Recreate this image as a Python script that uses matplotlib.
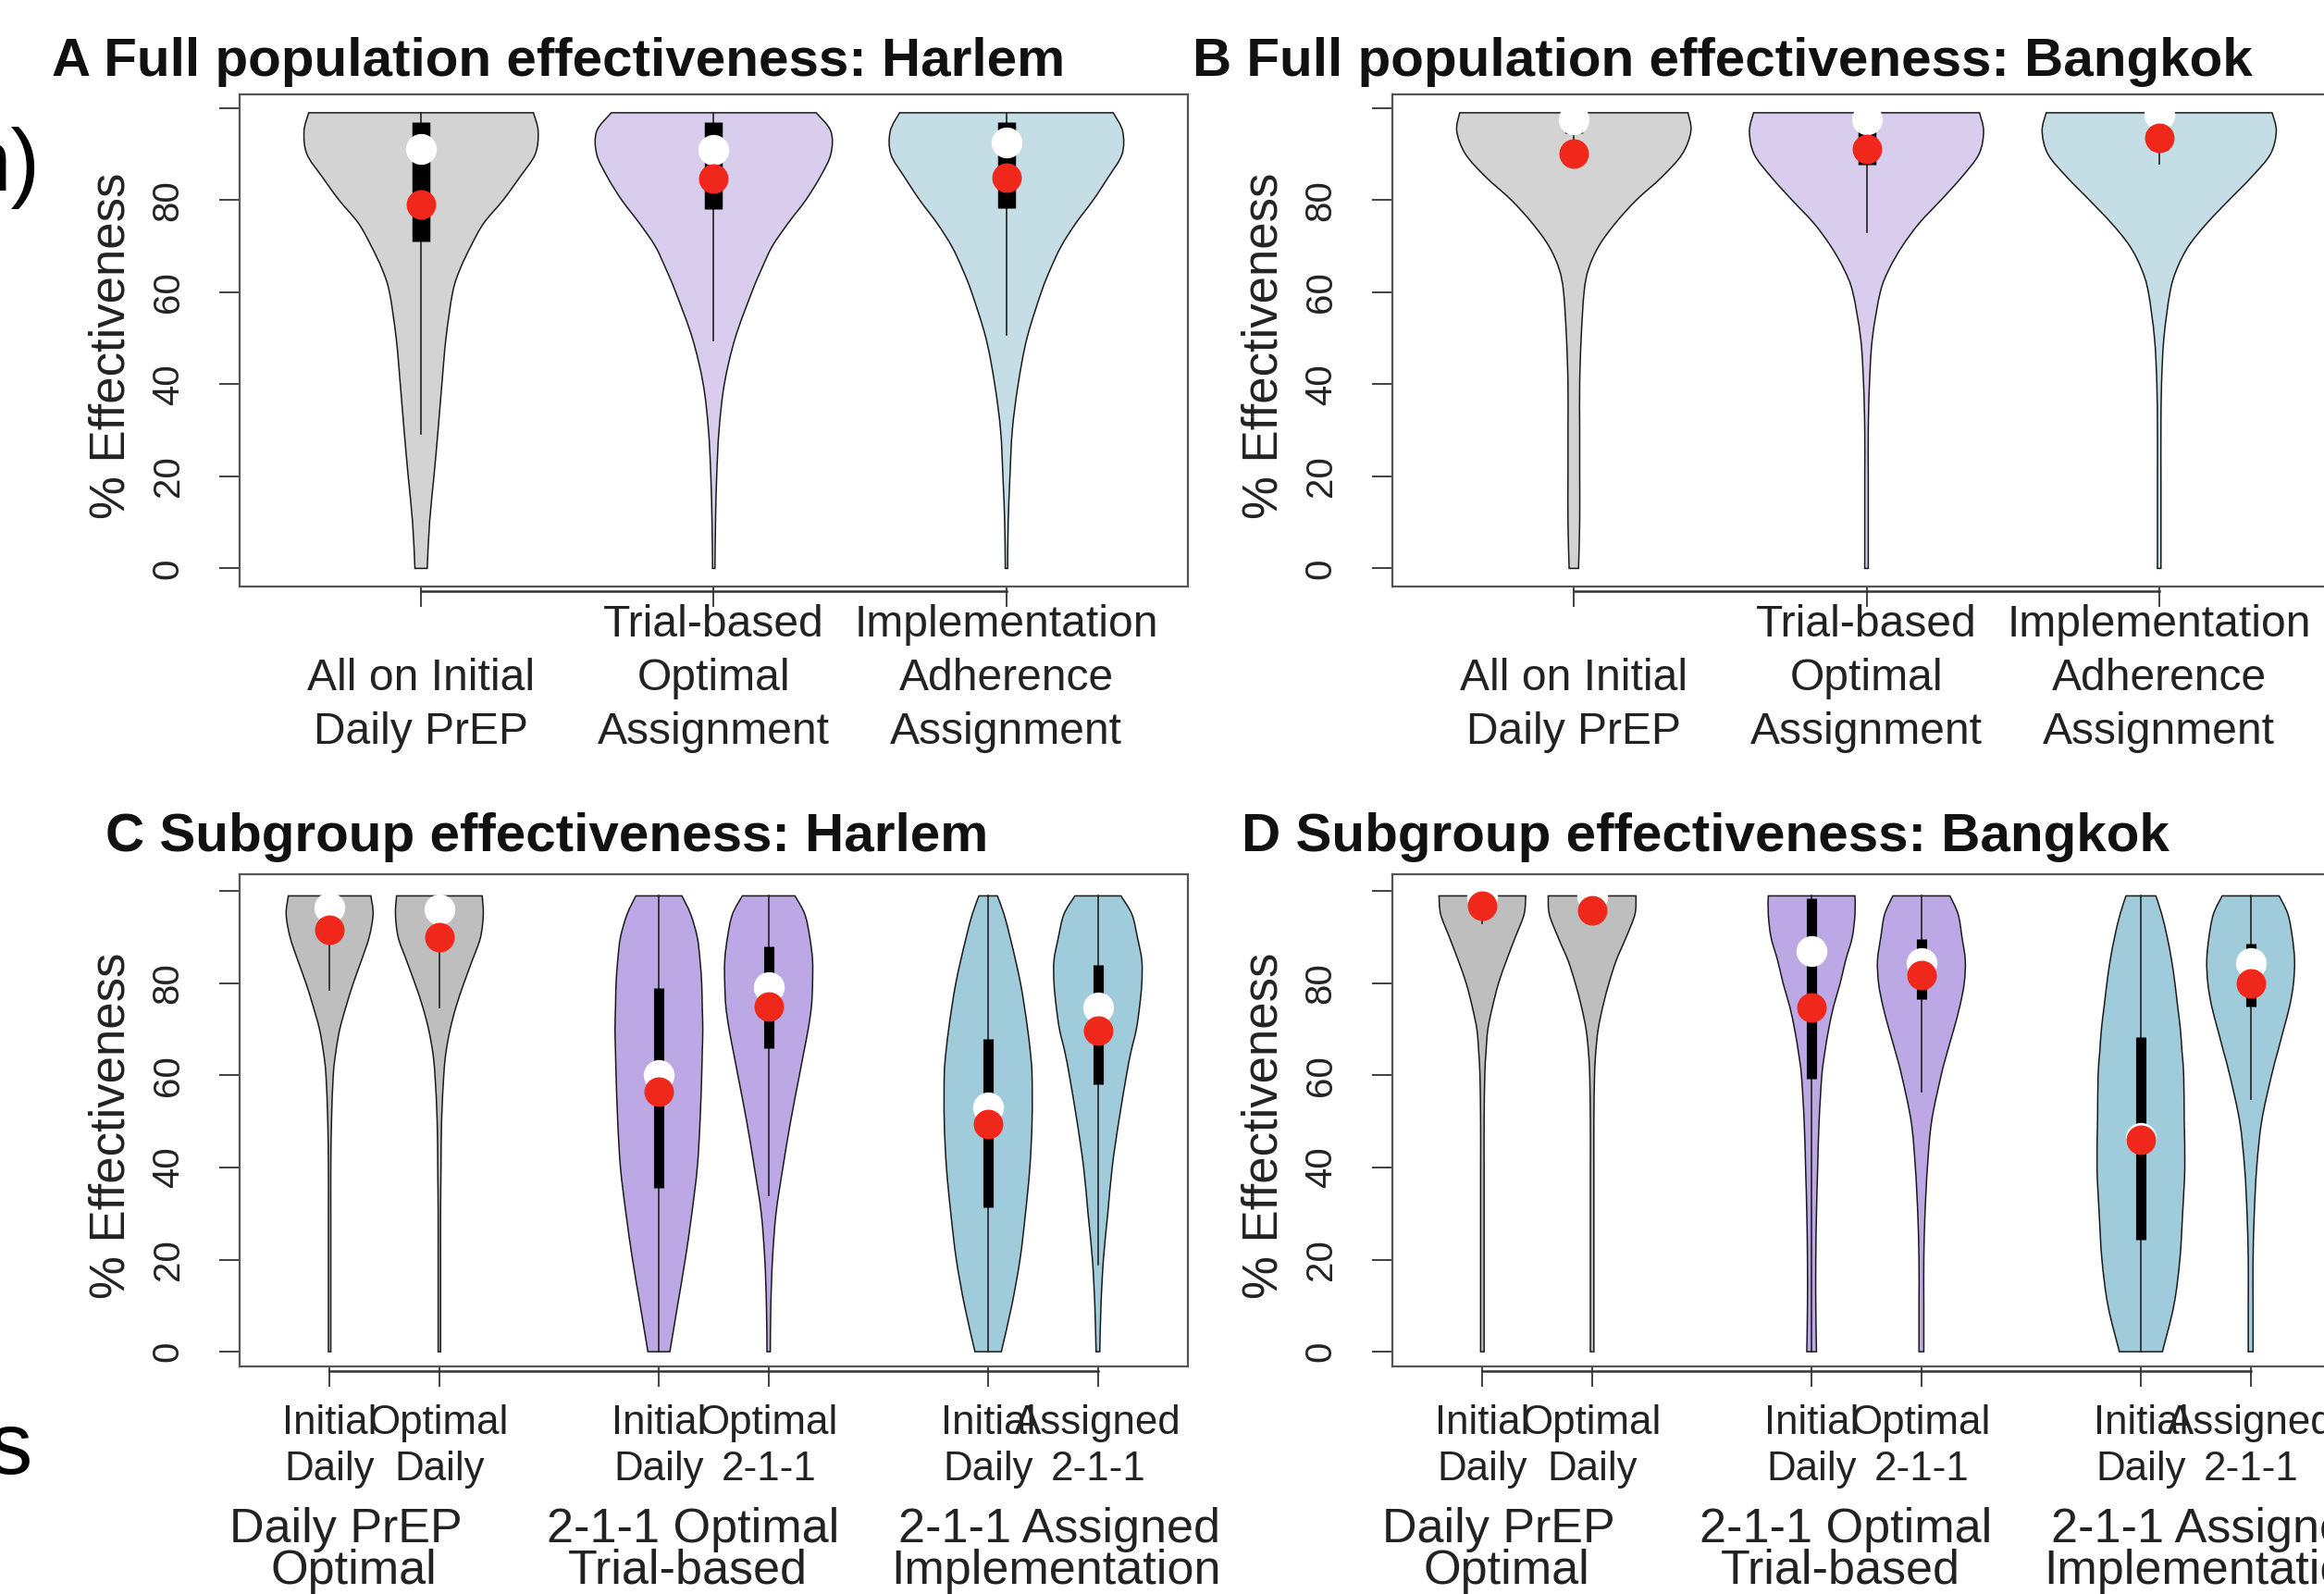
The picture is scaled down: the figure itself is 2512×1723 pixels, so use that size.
import numpy as np
import matplotlib
matplotlib.use("Agg")
import matplotlib.pyplot as plt
import matplotlib.transforms as mtransforms
from matplotlib.path import Path
from matplotlib.patches import PathPatch

plt.rcParams['font.family'] = ['Liberation Sans', 'DejaVu Sans']

W, H = 2512, 1723

# effectiveness levels (%) at which the violin half-widths were read
levels = [0, 10, 20, 30, 40, 50, 60, 65, 70, 75, 80, 85, 90, 95, 99]

# ---- A: full population, Harlem
full_harlem_width = [
    [0.021, 0.029, 0.044, 0.058, 0.071, 0.085, 0.108, 0.133, 0.17, 0.214, 0.28, 0.337, 0.39, 0.40, 0.384],
    [0.004, 0.006, 0.010, 0.018, 0.036, 0.073, 0.13, 0.163, 0.20, 0.254, 0.314, 0.363, 0.40, 0.40, 0.35],
    [0.004, 0.006, 0.012, 0.020, 0.040, 0.070, 0.119, 0.15, 0.187, 0.237, 0.296, 0.348, 0.395, 0.397, 0.365],
]
full_harlem_q1 = [71, 78, 78.3]
full_harlem_q3 = [97, 97, 97]
full_harlem_lo = [29.3, 49.6, 50.7]
full_harlem_hi = [99, 99, 99]
full_harlem_median = [91.2, 91, 92.6]
full_harlem_mean = [79.1, 84.7, 84.9]

# ---- B: full population, Bangkok
full_bangkok_width = [
    [0.016, 0.02, 0.02, 0.02, 0.02, 0.025, 0.035, 0.05, 0.085, 0.142, 0.213, 0.30, 0.37, 0.40, 0.39],
    [0.006, 0.006, 0.006, 0.006, 0.01, 0.02, 0.047, 0.077, 0.122, 0.18, 0.254, 0.325, 0.384, 0.40, 0.386],
    [0.006, 0.006, 0.006, 0.006, 0.008, 0.016, 0.037, 0.06, 0.10, 0.163, 0.238, 0.315, 0.38, 0.40, 0.386],
]
full_bangkok_q1 = [94.5, 87.7, 91]
full_bangkok_q3 = [99, 99, 99]
full_bangkok_lo = [93, 73, 88]
full_bangkok_hi = [99, 99, 99]
full_bangkok_median = [97.5, 97.5, 98.5]
full_bangkok_mean = [90.1, 91.2, 93.6]

# ---- C: subgroups, Harlem
sub_harlem_width = [
    [0.011, 0.011, 0.011, 0.011, 0.011, 0.017, 0.033, 0.056, 0.092, 0.15, 0.215, 0.29, 0.36, 0.396, 0.376],
    [0.011, 0.011, 0.011, 0.011, 0.015, 0.02, 0.04, 0.06, 0.098, 0.153, 0.223, 0.30, 0.375, 0.40, 0.39],
    [0.10, 0.17, 0.24, 0.30, 0.35, 0.375, 0.39, 0.395, 0.40, 0.395, 0.39, 0.375, 0.35, 0.29, 0.21],
    [0.015, 0.02, 0.035, 0.067, 0.13, 0.20, 0.28, 0.32, 0.36, 0.39, 0.40, 0.40, 0.375, 0.33, 0.24],
    [0.12, 0.215, 0.29, 0.34, 0.38, 0.40, 0.40, 0.385, 0.36, 0.33, 0.295, 0.25, 0.20, 0.145, 0.084],
    [0.017, 0.028, 0.05, 0.09, 0.13, 0.19, 0.26, 0.30, 0.35, 0.38, 0.40, 0.40, 0.36, 0.31, 0.21],
]
sub_harlem_q1 = [94, 93.5, 35.6, 66, 31.4, 58]
sub_harlem_q3 = [99, 99, 78.9, 88.1, 68, 84.1]
sub_harlem_lo = [78.5, 74.7, 0, 34, 0, 19]
sub_harlem_hi = [99, 99, 99, 99, 99, 99]
sub_harlem_median = [96.5, 96, 60, 79.2, 53, 74.7]
sub_harlem_mean = [91.6, 90, 56.5, 75, 49.5, 69.8]

# ---- D: subgroups, Bangkok
sub_bangkok_width = [
    [0.016, 0.016, 0.016, 0.016, 0.016, 0.016, 0.022, 0.033, 0.05, 0.093, 0.147, 0.22, 0.30, 0.38, 0.395],
    [0.016, 0.016, 0.016, 0.016, 0.016, 0.016, 0.022, 0.033, 0.055, 0.098, 0.153, 0.22, 0.31, 0.39, 0.40],
    [0.044, 0.038, 0.038, 0.044, 0.055, 0.068, 0.093, 0.12, 0.155, 0.20, 0.26, 0.31, 0.37, 0.395, 0.395],
    [0.022, 0.022, 0.022, 0.033, 0.055, 0.093, 0.18, 0.235, 0.295, 0.35, 0.39, 0.40, 0.37, 0.335, 0.26],
    [0.196, 0.30, 0.355, 0.38, 0.40, 0.395, 0.39, 0.375, 0.36, 0.335, 0.31, 0.28, 0.24, 0.19, 0.136],
    [0.022, 0.022, 0.022, 0.033, 0.055, 0.10, 0.19, 0.245, 0.30, 0.355, 0.39, 0.40, 0.38, 0.34, 0.26],
]
sub_bangkok_q1 = [96, 96, 59.3, 76.5, 24.4, 75]
sub_bangkok_q3 = [99, 99, 98.5, 89.7, 68.4, 88.7]
sub_bangkok_lo = [93, 93, 0, 56.5, 0, 54.8]
sub_bangkok_hi = [99, 99, 99, 99, 99, 99]
sub_bangkok_median = [98.8, 98.8, 87, 84.5, 46.5, 84.5]
sub_bangkok_mean = [96.9, 95.8, 74.8, 81.7, 46.1, 80]

full_pos = [1, 2, 3]
sub_pos = [1, 2, 4, 5, 7, 8]

full_labels = [["All on Initial", "Daily PrEP"],
               ["Trial-based", "Optimal", "Assignment"],
               ["Implementation", "Adherence", "Assignment"]]
sub_labels = [["Initial", "Daily"], ["Optimal", "Daily"],
              ["Initial", "Daily"], ["Optimal", "2-1-1"],
              ["Initial", "Daily"], ["Assigned", "2-1-1"]]
group_line1 = ["Daily PrEP", "2-1-1 Optimal", "2-1-1 Assigned"]
group_line2 = ["Optimal", "Trial-based", "Implementation"]
group_x1 = [1.145, 4.315, 7.65]
group_x2 = [1.22, 4.26, 7.62]

full_colors = ["#D3D3D3", "#D9CDEE", "#C5DEE6"]
sub_colors = ["#BEBEBE", "#BEBEBE", "#BCA8E4", "#BCA8E4", "#9FCBDA", "#9FCBDA"]
RED = "#F0281C"

fig = plt.figure(figsize=(W / 100, H / 100), dpi=100)


def px_axes(left, top, width, height):
    return fig.add_axes([left / W, 1 - (top + height) / H, width / W, height / H])


def side_path(pts):
    # smooth curve through the read points (Catmull-Rom as cubic Bezier)
    verts, codes = [], []
    n = len(pts)
    for i in range(n - 1):
        p0 = pts[max(i - 1, 0)]
        p1 = pts[i]
        p2 = pts[i + 1]
        p3 = pts[min(i + 2, n - 1)]
        verts += [p1 + (p2 - p0) / 6, p2 - (p3 - p1) / 6, p2]
        codes += [Path.CURVE4] * 3
    return verts, codes


def draw_violin(ax, x, widths, q1, q3, lo, hi, med, mean, color, box_lw):
    y = np.array(levels, dtype=float)
    w = np.array(widths)
    right = np.column_stack([x + w, y])
    left = np.column_stack([x - w, y])[::-1]
    verts = [left[-1], right[0]]
    codes = [Path.MOVETO, Path.LINETO]
    v, c = side_path(right)
    verts += v
    codes += c
    verts.append(left[0])
    codes.append(Path.LINETO)
    v, c = side_path(left)
    verts += v
    codes += c
    verts.append(left[-1])
    codes.append(Path.CLOSEPOLY)
    ax.add_patch(PathPatch(Path(verts, codes), facecolor=color,
                           edgecolor="#1a1a1a", lw=1.1, zorder=2))
    ax.plot([x, x], [lo, hi], color="#222222", lw=1.2, zorder=3)
    ax.plot([x, x], [q1, q3], color="black", lw=box_lw,
            solid_capstyle="butt", zorder=4)
    ax.plot(x, med, "o", ms=23, color="white", mec="white", zorder=5)
    ax.plot(x, mean, "o", ms=22, color=RED, mec=RED, zorder=6)


def style_axes(ax, pos, xlim, ylim, ylabel_x):
    ax.set_xlim(*xlim)
    ax.set_ylim(*ylim)
    for s in ax.spines.values():
        s.set_color("#555555")
        s.set_linewidth(1.6)
    ax.set_xticks(pos)
    ax.set_xticklabels([])
    ax.set_yticks([0, 20, 40, 60, 80, 100])
    ax.set_yticklabels(["0", "20", "40", "60", "80", ""], rotation=90,
                       va="center", fontsize=29, color="#222222")
    ax.tick_params(axis="both", direction="out", length=16, width=1.3,
                   color="#333333")
    ax.tick_params(axis="y", pad=26)
    ax.tick_params(axis="x", pad=0)
    # R-style axis line between first and last tick, a touch below the box
    tr = mtransforms.offset_copy(
        mtransforms.blended_transform_factory(ax.transData, ax.transAxes),
        fig=fig, y=-5, units="dots")
    ax.plot([pos[0], pos[-1]], [0, 0], color="#333333", lw=1.8,
            transform=tr, clip_on=False)
    ax.text(ylabel_x, 0.49, "% Effectiveness", rotation=90, ha="center",
            va="center", fontsize=38, color="#222222", transform=ax.transAxes)


def put_lines(ax, x, lines, baselines, size):
    tr = mtransforms.blended_transform_factory(ax.transData, fig.transFigure)
    for line, yb in zip(lines, baselines):
        ax.text(x, 1 - yb / H, line, transform=tr, ha="center", va="baseline",
                fontsize=size, color="#222222", clip_on=False)


AX_W = 1025
ax_a = px_axes(259, 102, AX_W, 532)
ax_b = px_axes(1505, 102, AX_W, 532)
ax_c = px_axes(259, 945, AX_W, 532)
ax_d = px_axes(1505, 945, AX_W, 532)

full_panels = [
    (ax_a, full_harlem_width, full_harlem_q1, full_harlem_q3, full_harlem_lo,
     full_harlem_hi, full_harlem_median, full_harlem_mean),
    (ax_b, full_bangkok_width, full_bangkok_q1, full_bangkok_q3, full_bangkok_lo,
     full_bangkok_hi, full_bangkok_median, full_bangkok_mean),
]
sub_panels = [
    (ax_c, sub_harlem_width, sub_harlem_q1, sub_harlem_q3, sub_harlem_lo,
     sub_harlem_hi, sub_harlem_median, sub_harlem_mean),
    (ax_d, sub_bangkok_width, sub_bangkok_q1, sub_bangkok_q3, sub_bangkok_lo,
     sub_bangkok_hi, sub_bangkok_median, sub_bangkok_mean),
]

for ax, wid, q1, q3, lo, hi, med, mean in full_panels:
    for i, x in enumerate(full_pos):
        draw_violin(ax, x, wid[i], q1[i], q3[i], lo[i], hi[i], med[i], mean[i],
                    full_colors[i], 14)
    style_axes(ax, full_pos, (0.38, 3.62), (-3.94, 103.0), -0.135)
    for i, x in enumerate(full_pos):
        lines = full_labels[i]
        put_lines(ax, x, lines, [688, 746, 804][-len(lines):], 34.6)

for ax, wid, q1, q3, lo, hi, med, mean in sub_panels:
    for i, x in enumerate(sub_pos):
        draw_violin(ax, x, wid[i], q1[i], q3[i], lo[i], hi[i], med[i], mean[i],
                    sub_colors[i], 8)
    style_axes(ax, sub_pos, (0.18, 8.82), (-3.2, 103.7), -0.135)
    for i, x in enumerate(sub_pos):
        put_lines(ax, x, sub_labels[i], [1550, 1600], 31.6)
    for g in range(3):
        put_lines(ax, group_x1[g], [group_line1[g]], [1667], 37.5)
        put_lines(ax, group_x2[g], [group_line2[g]], [1712], 37.5)

titles = [("A Full population effectiveness: Harlem", 56, 82),
          ("B Full population effectiveness: Bangkok", 1289, 82),
          ("C Subgroup effectiveness: Harlem", 114, 920),
          ("D Subgroup effectiveness: Bangkok", 1342, 920)]
for txt, x, yb in titles:
    fig.text(x / W, 1 - yb / H, txt, fontsize=42, fontweight="bold",
             ha="left", va="baseline", color="#111111")

# fragments of neighbouring text cut by the image edge
fig.text(44 / W, 1 - 206 / H, "n)", fontsize=68, ha="right", va="baseline")
fig.text(35 / W, 1 - 1593 / H, "s", fontsize=68, ha="right", va="baseline")

fig.savefig("out.png", dpi=100)
